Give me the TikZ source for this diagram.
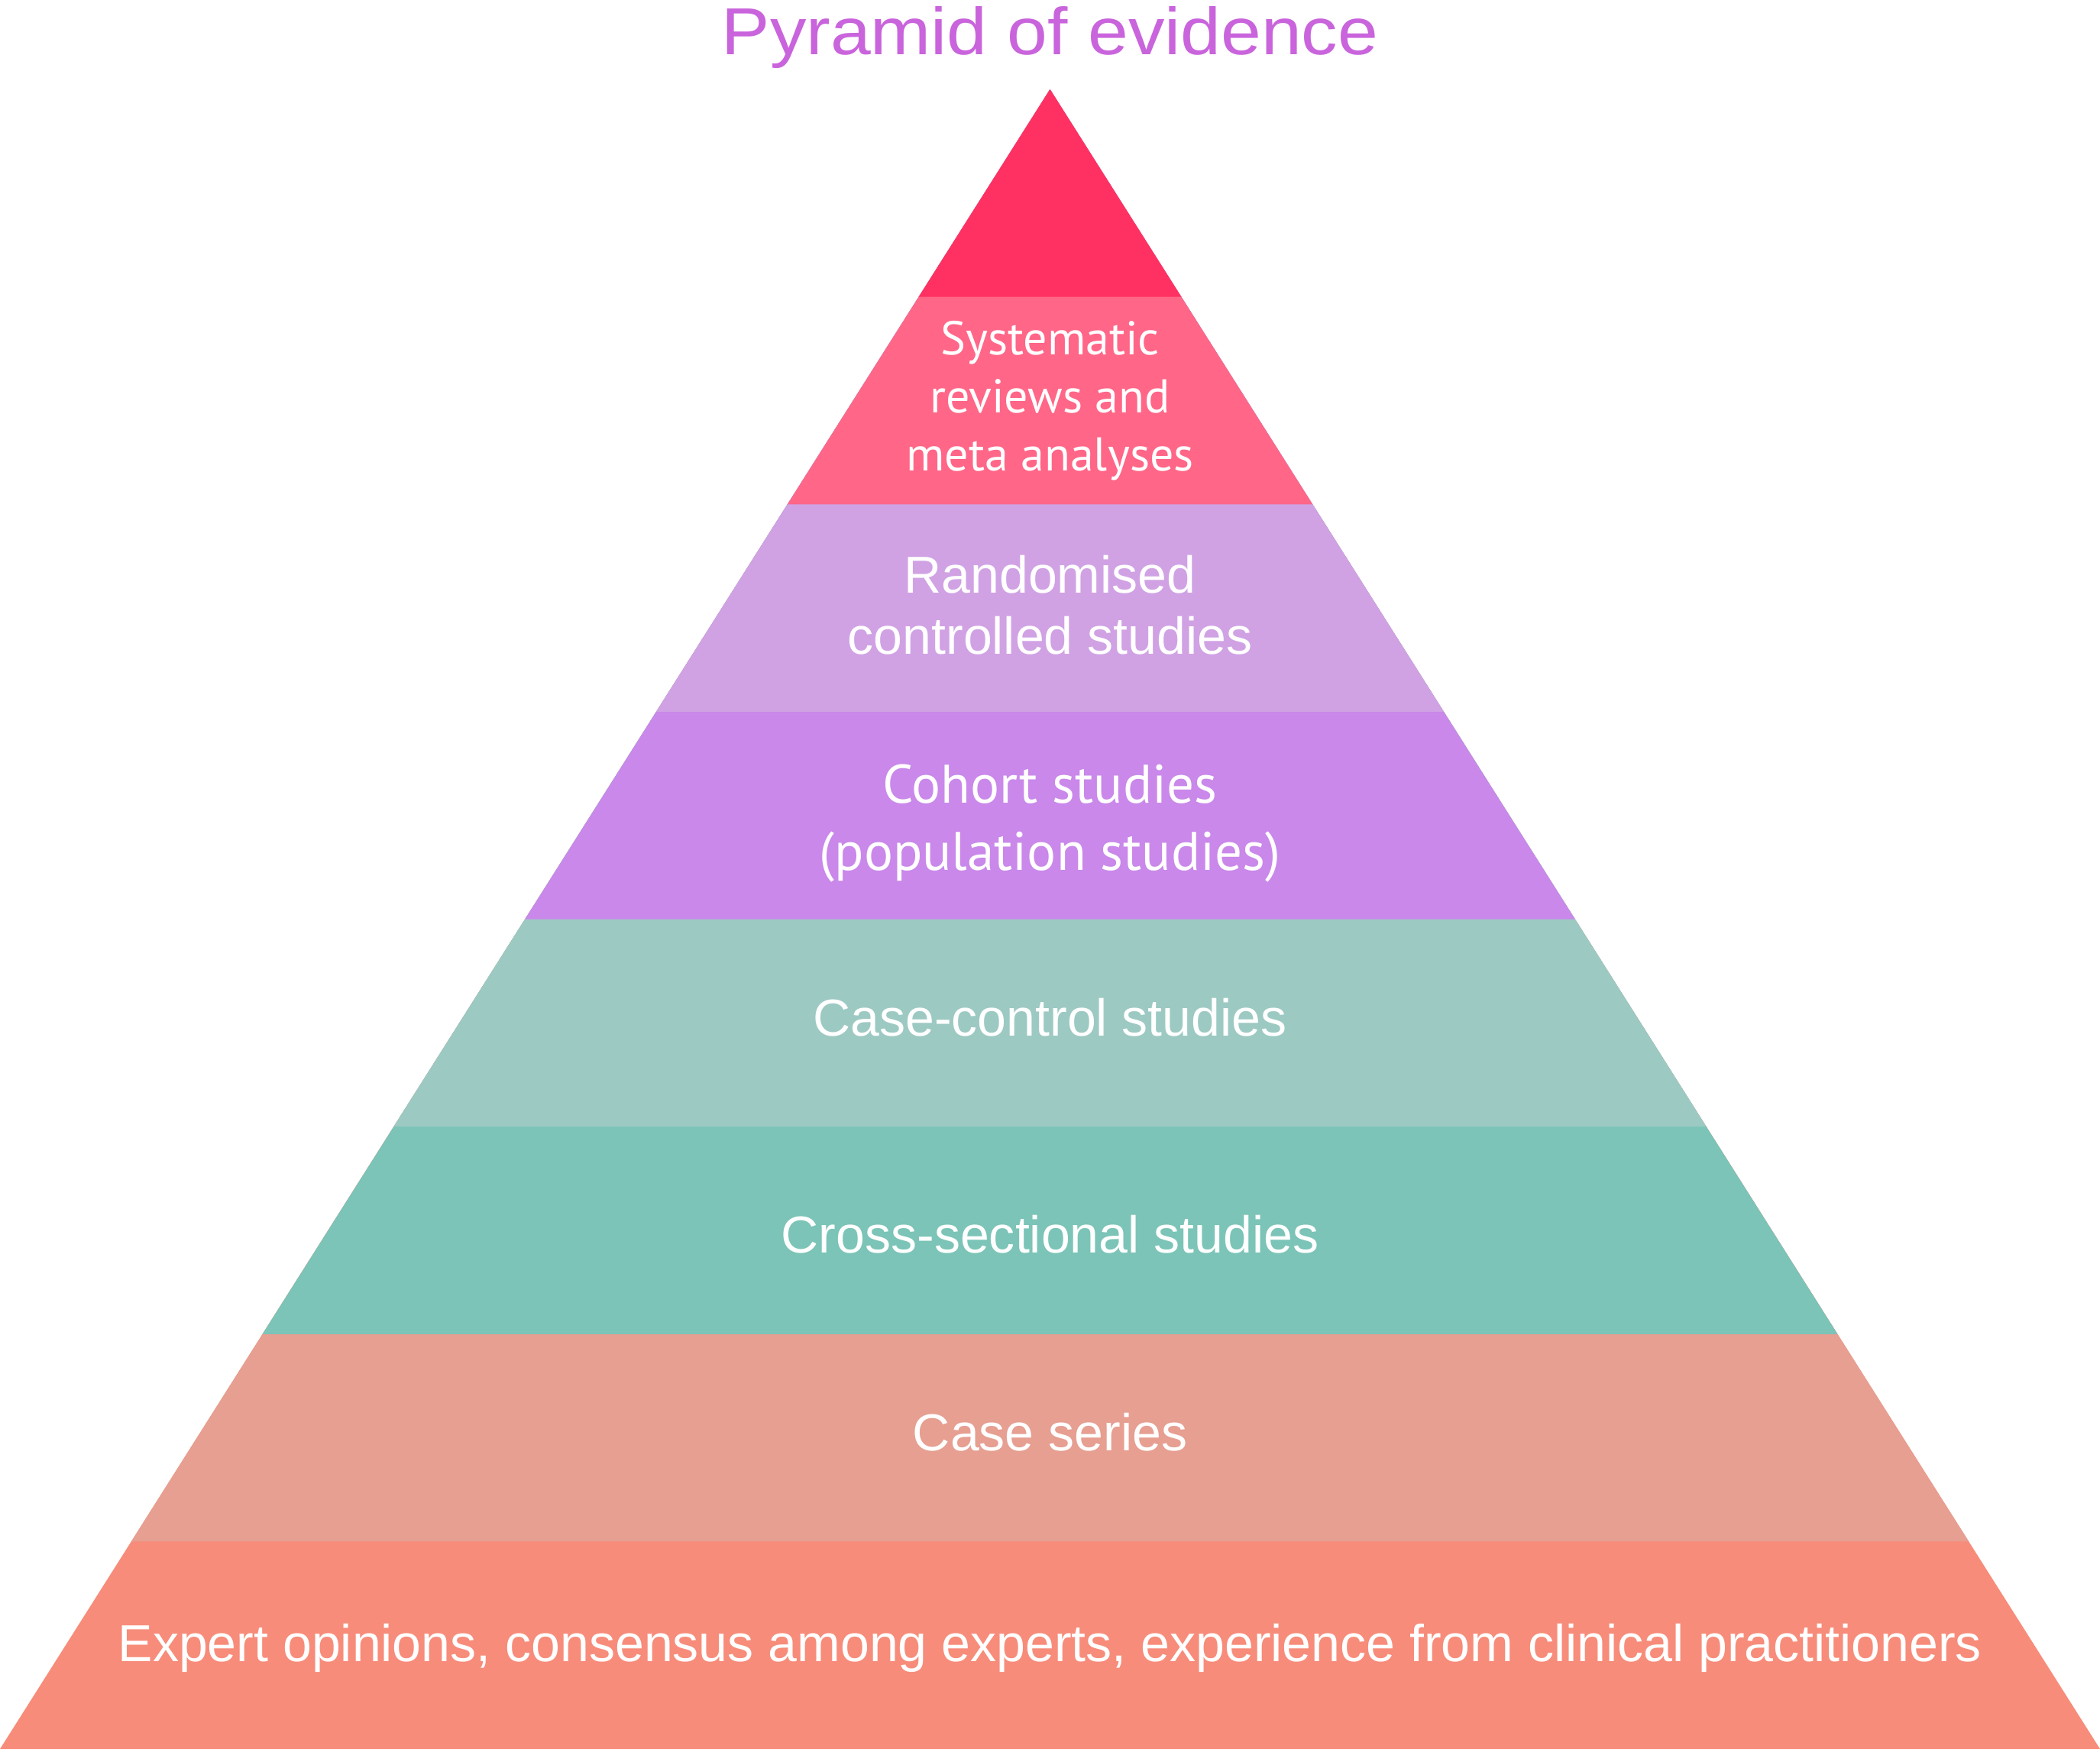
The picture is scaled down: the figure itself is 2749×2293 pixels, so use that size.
\documentclass[tikz,border=0pt]{standalone}
\usepackage{fontspec}
\setmainfont{Liberation Sans}
\newfontfamily\humanist{PT Sans}
\newfontfamily\titlefont[FakeStretch=1.09]{Liberation Sans}
\usetikzlibrary{calc}

\definecolor{ttl}{HTML}{C964DC}
\definecolor{lvlA}{HTML}{FF3062}
\definecolor{lvlB}{HTML}{FF6687}
\definecolor{lvlC}{HTML}{D0A2E4}
\definecolor{lvlD}{HTML}{C988EA}
\definecolor{lvlE}{HTML}{9DC9C3}
\definecolor{lvlF}{HTML}{7BC4B7}
\definecolor{lvlG}{HTML}{E69F91}
\definecolor{lvlH}{HTML}{F78C7A}

\begin{document}
\begin{tikzpicture}[x=0.01cm, y=-0.01cm]
	\tikzstyle{lbl} = [text=white, inner sep=0pt, align=center, font=\fontsize{19.35}{22.76}\selectfont]
	\tikzstyle{lblsmall} = [lbl, font=\humanist\fontsize{17.64}{21.62}\selectfont]
	\tikzstyle{lblhum} = [lbl, font=\humanist\fontsize{20.2}{25.3}\selectfont]
	\useasboundingbox (0,0) rectangle (2749,2293);

	\coordinate (apex) at (1374.5,117);
	\coordinate (bl) at (0,2290);
	\coordinate (br) at (2749,2290);

	% levels, widest first so each one covers the lower part
	\foreach \k/\col in {8/lvlH, 7/lvlG, 6/lvlF, 5/lvlE, 4/lvlD, 3/lvlC, 2/lvlB, 1/lvlA}
		\fill[\col] (apex) -- ($(apex)!{\k/8}!(bl)$) -- ($(apex)!{\k/8}!(br)$) -- cycle;

	\path
	node[anchor=base, inner sep=0pt, text=ttl, font=\titlefont\fontsize{24.75}{30}\selectfont] (title) at (1374.5,71) {Pyramid of evidence}

	node[lblsmall] (sysrev) at (1374.5,525) {Systematic\\reviews and\\meta analyses}
	node[lbl] (rct) at (1374.5,792) {Randomised\\controlled studies}
	node[lblhum] (cohort) at (1374.5,1078) {Cohort studies\\(population studies)}
	node[lbl, anchor=base] (casectrl) at (1374.5,1356) {Case-control studies}
	node[lbl, anchor=base] (cross) at (1374.5,1640) {Cross-sectional studies}
	node[lbl, anchor=base] (series) at (1374.5,1899) {Case series}
	node[lbl, anchor=base] (expert) at (1374.5,2175) {Expert opinions, consensus among experts, experience from clinical practitioners}
	;
\end{tikzpicture}
\end{document}
